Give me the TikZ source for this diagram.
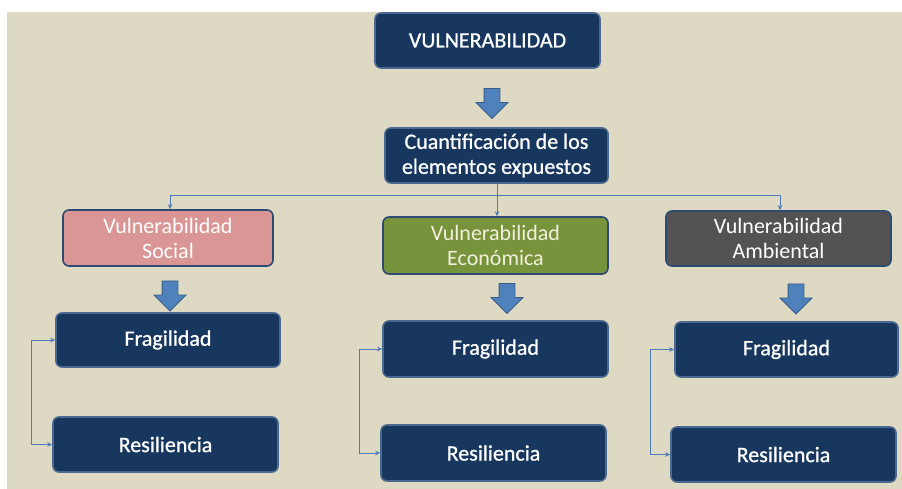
\documentclass[tikz,border=0pt]{standalone}
\usepackage{fontspec}
\setmainfont{Carlito}
\newfontfamily\medfont[FakeBold=0.9]{Carlito}
\usetikzlibrary{arrows.meta,shapes.arrows}
\definecolor{bg}{HTML}{DDD9C3}
\definecolor{navy}{HTML}{17375E}
\definecolor{navyedge}{HTML}{4A6890}
\definecolor{darkedge}{HTML}{2E4A70}
\definecolor{pinkf}{HTML}{D99694}
\definecolor{greenf}{HTML}{77933C}
\definecolor{grayf}{HTML}{535353}
\definecolor{arrowf}{HTML}{4F81BD}
\definecolor{arrowe}{HTML}{385D8A}
\definecolor{linec}{HTML}{5079B8}
\definecolor{cream}{HTML}{F2F0DC}
\tikzset{
  box/.style={rectangle, rounded corners=6pt, line width=1.6pt, inner sep=2pt,
    align=center, text=white, font=\fontsize{22}{25}\selectfont},
  navybox/.style={box, fill=navy, draw=navyedge, font=\fontsize{22}{25}\selectfont\medfont},
  pinkbox/.style={box, fill=pinkf, draw=darkedge},
  greenbox/.style={box, fill=greenf, draw=darkedge, text=cream},
  graybox/.style={box, fill=grayf, draw=darkedge},
  blockarrow/.style={single arrow, shape border rotate=270, fill=arrowf, draw=arrowe,
    line width=0.8pt, inner sep=7.5pt, single arrow head extend=8pt,
    minimum height=30pt},
  conn/.style={draw=linec, line width=1pt, -{Stealth[length=5pt,width=4.5pt]}},
  conn2/.style={draw=linec, line width=1pt, {Stealth[length=5pt,width=4.5pt]}-{Stealth[length=5pt,width=4.5pt]}}
}
\begin{document}
\begin{tikzpicture}[x=1pt,y=-1pt]
\useasboundingbox (0,0) rectangle (902,489);
\fill[white] (0,0) rectangle (902,489);
\fill[bg] (7,12) rectangle (902,489);

\node[navybox, minimum width=225pt, minimum height=55pt] (V) at (487.5,40.5) {VULNERABILIDAD};
\node[blockarrow] (a1) at (492,99.5) {};
\node[navybox, minimum width=223pt, minimum height=55pt] (C) at (496.5,155.5) {Cuantificación de los\\elementos expuestos};

\node[pinkbox, minimum width=210pt, minimum height=56pt] (S) at (168,238) {Vulnerabilidad\\Social};
\node[greenbox, minimum width=225pt, minimum height=57pt] (E) at (495.5,245.5) {Vulnerabilidad\\Económica};
\node[graybox, minimum width=225pt, minimum height=55pt] (A) at (778.5,238.5) {Vulnerabilidad\\Ambiental};

\node[blockarrow] (a2) at (170,292) {};
\node[blockarrow] (a3) at (507,294.5) {};
\node[blockarrow] (a4) at (796,295) {};

\node[navybox, minimum width=224pt, minimum height=54pt] (F1) at (168,340) {Fragilidad};
\node[navybox, minimum width=225pt, minimum height=55pt] (R1) at (165.5,444.5) {Resiliencia};
\node[navybox, minimum width=225pt, minimum height=56pt] (F2) at (495.5,349) {Fragilidad};
\node[navybox, minimum width=225pt, minimum height=56pt] (R2) at (493.5,453) {Resiliencia};
\node[navybox, minimum width=223pt, minimum height=55pt] (F3) at (786.5,349.5) {Fragilidad};
\node[navybox, minimum width=225pt, minimum height=55pt] (R3) at (783.5,454.5) {Resiliencia};

\coordinate (hub) at (497,196);
\draw[conn] (C.south -| hub) -- (E.north -| hub);
\draw[conn] (hub) -| (S.north -| 170,0);
\draw[conn] (hub) -| (A.north -| 780,0);

\draw[conn2] (F1.west) -- +(-24,0) |- (R1.west);
\draw[conn2] (F2.west) -- +(-23,0) |- (R2.west);
\draw[conn2] (F3.west) -- +(-24,0) |- (R3.west);
\end{tikzpicture}
\end{document}
